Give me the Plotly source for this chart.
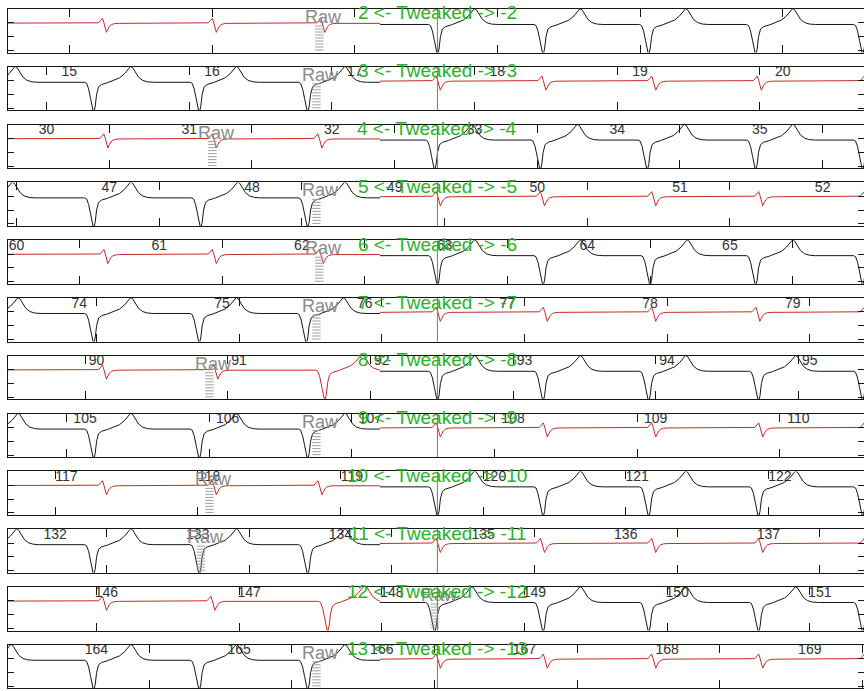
import plotly.graph_objects as go

# ---- record windows (seconds) -------------------------------------------
WINDOW_S = 6.0          # length of every strip
SPLIT_S = 2.607         # where the left (first) lead ends and the second begins
TWEAK_S = 3.01          # tweak marker inside each strip

STRIP_START = [14.57, 29.73, 46.29, 59.94, 73.50, 89.38,
               104.46, 116.59, 131.67, 145.31, 163.38, 179.01]

LEFT_IS_RED = [True, False, True, False, True, False,
               True, False, True, False, True, False]

# beat times (s, from the start of the strip)
LEFT_BEATS = [
    [0.69, 1.46, 2.22],
    [-0.21, 0.60, 1.34, 2.10],
    [0.70, 1.46, 2.20],
    [-0.23, 0.60, 1.35, 2.10],
    [0.70, 1.46, 2.21],
    [-0.19, 0.60, 1.34, 2.09],
    [0.69, 1.47],
    [-0.19, 0.60, 1.34, 2.10],
    [0.69, 1.46, 2.20],
    [-0.20, 0.60, 1.34, 2.10],
    [0.69, 1.45],
    [-0.24, 0.60, 1.34, 2.10],
]
# broad ectopic beats inside the red lead
LEFT_WIDE_BEATS = [[], [], [], [], [], [], [2.22], [], [], [], [2.24], []]

RIGHT_BEATS = [
    [3.01, 3.75, 4.49, 5.24, 5.99],
    [3.03, 3.77, 4.54, 5.28, 6.03],
    [2.99, 3.73, 4.48, 5.24, 5.99],
    [3.03, 3.76, 4.54, 5.29, 6.03],
    [3.01, 3.75, 4.50, 5.24, 5.99],
    [3.03, 3.78, 4.54, 5.27, 6.03],
    [3.01, 3.75, 4.49, 5.26, 5.99],
    [3.03, 3.78, 4.54, 5.29, 6.03],
    [3.01, 3.75, 4.49, 5.26, 5.99],
    [3.03, 3.76, 4.54, 5.29, 6.03],
    [2.99, 3.75, 4.49, 5.26, 5.99],
    [3.03, 3.78, 4.54, 5.29, 6.03],
]

TWEAK_FROM = [2, 3, 4, 5, 6, 7, 8, 9, 10, 11, 12, 13]
TWEAK_TO = [-2, -3, -4, -5, -6, -7, -8, -9, -10, -11, -12, -13]
RAW_AT = [2.07, 2.05, 1.32, 2.05, 2.07, 2.05, 1.30, 2.05, 1.30, 1.24, 2.88, 2.05]

# ---- beat shapes (ms offset from the QRS trough, amplitude above baseline)
BROAD_MS = [-63, -49, -35, -21, -11, 0, 11, 21, 35, 56, 98, 140, 182,
            217, 245, 259, 273, 294, 315, 343, 378, 420]
BROAD_AMP = [0.0, -0.08, -0.48, -1.18, -1.83, -2.23, -1.78, -0.88, -0.33,
             -0.16, -0.03, 0.12, 0.32, 0.62, 0.97, 1.14, 1.07, 0.72, 0.37,
             0.14, 0.03, 0.0]
NARROW_MS = [-98, -56, -42, -28, -18, -7, 0, 11, 21, 35, 56, 84]
NARROW_AMP = [0.0, 0.04, 0.20, 0.37, 0.05, -0.45, -0.65, -0.42, -0.22,
              -0.09, -0.02, 0.0]

BASE_BLACK = -0.12
BASE_RED = -0.04
RED = "#c8282a"
BLACK = "#151515"
GREEN = "#27b327"
GREY = "#8a8a8a"

W, H = 864, 691
TOP0, PITCH, BOX_H = 9, 57.8, 43.5
X_LEFT = 8
Y_RANGE = [-2.15, 1.0]
FONT = "Liberation Sans, Arial, sans-serif"


def lead(beats, base, lo, hi, narrow, wide=()):
    pts = [(lo, base), (hi, base)]
    groups = [(beats, NARROW_MS, NARROW_AMP) if narrow else (beats, BROAD_MS, BROAD_AMP),
              (wide, BROAD_MS, BROAD_AMP)]
    for bl, sh_t, sh_v in groups:
        for b in bl:
            for dt, v in zip(sh_t, sh_v):
                t = b + dt / 1000.0
                if lo < t < hi:
                    pts.append((t, base + v))
    pts.sort()
    return [p[0] for p in pts], [p[1] for p in pts]


fig = go.Figure()
annotations = []
shapes = []
layout = {}

for i in range(12):
    k = i + 1
    xs = "" if k == 1 else str(k)
    xa, ya = "x" + xs, "y" + xs
    t0 = STRIP_START[i]

    top = TOP0 + PITCH * i
    bot = top + BOX_H
    layout["xaxis" + xs] = dict(
        domain=[X_LEFT / W, 1.0], range=[t0, t0 + WINDOW_S], anchor=ya,
        tick0=0, dtick=1, ticks="inside", ticklen=8, tickcolor=BLACK,
        mirror="ticks", showline=True, linecolor=BLACK, linewidth=1,
        showgrid=False, zeroline=False, ticklabelstandoff=6, automargin=False,
        showticklabels=(k < 12),
        tickfont=dict(size=14, color="#333333", family=FONT),
    )
    layout["yaxis" + xs] = dict(
        domain=[1 - bot / H, 1 - top / H], range=Y_RANGE, anchor=xa,
        tickvals=[-2, -1, 0, 1], ticks="inside", ticklen=6, tickcolor=BLACK,
        mirror="ticks", showline=True, linecolor=BLACK, linewidth=1,
        showgrid=False, zeroline=False, showticklabels=False, automargin=False,
    )

    left_red = LEFT_IS_RED[i]
    # first lead of the strip
    lx, ly = lead([t0 + b for b in LEFT_BEATS[i]],
                  BASE_RED if left_red else BASE_BLACK,
                  t0 - 0.6, t0 + SPLIT_S, narrow=left_red,
                  wide=[t0 + b for b in LEFT_WIDE_BEATS[i]])
    fig.add_trace(go.Scatter(x=lx, y=ly, mode="lines", xaxis=xa, yaxis=ya,
                             line=dict(color=RED if left_red else BLACK, width=1),
                             hoverinfo="skip", showlegend=False))
    # second lead of the strip
    rx, ry = lead([t0 + b for b in RIGHT_BEATS[i]],
                  BASE_BLACK if left_red else BASE_RED,
                  t0 + SPLIT_S, t0 + WINDOW_S + 0.6, narrow=not left_red)
    fig.add_trace(go.Scatter(x=rx, y=ry, mode="lines", xaxis=xa, yaxis=ya,
                             line=dict(color=BLACK if left_red else RED, width=1),
                             hoverinfo="skip", showlegend=False))

    # "Raw" marker with its little ruler
    raw_t = t0 + RAW_AT[i]
    annotations.append(dict(
        x=raw_t, y=Y_RANGE[1], xref=xa, yref=ya, text="Raw", showarrow=False,
        xanchor="left", yanchor="middle", yshift=-8,
        font=dict(size=18, color=GREY, family=FONT),
    ))
    px_per_unit = BOX_H / (Y_RANGE[1] - Y_RANGE[0])
    ruler_y = [Y_RANGE[1] - (17 + 3 * j) / px_per_unit for j in range(9)]
    fig.add_trace(go.Scatter(
        x=[raw_t + 16 / ((W - X_LEFT) / WINDOW_S)] * len(ruler_y), y=ruler_y,
        mode="markers", xaxis=xa, yaxis=ya, hoverinfo="skip", showlegend=False,
        marker=dict(symbol="line-ew-open", size=6, color="#a0a0a0",
                    line=dict(color="#a0a0a0", width=1)),
    ))

    # tweak marker
    shapes.append(dict(type="line", xref=xa, yref=ya + " domain",
                       x0=t0 + TWEAK_S, x1=t0 + TWEAK_S, y0=0, y1=1,
                       line=dict(color=GREEN, width=1)))
    annotations.append(dict(
        x=t0 + TWEAK_S, y=Y_RANGE[1], xref=xa, yref=ya,
        text=f"{TWEAK_FROM[i]} <- Tweaked -> {TWEAK_TO[i]}", showarrow=False,
        xanchor="center", yanchor="middle", yshift=-4,
        font=dict(size=19, color=GREEN, family=FONT),
    ))

fig.update_layout(
    width=W, height=H, margin=dict(l=0, r=0, t=0, b=0, autoexpand=False),
    paper_bgcolor="white", plot_bgcolor="white",
    annotations=annotations, shapes=shapes, showlegend=False,
    **layout,
)

fig.write_html("out.html")
